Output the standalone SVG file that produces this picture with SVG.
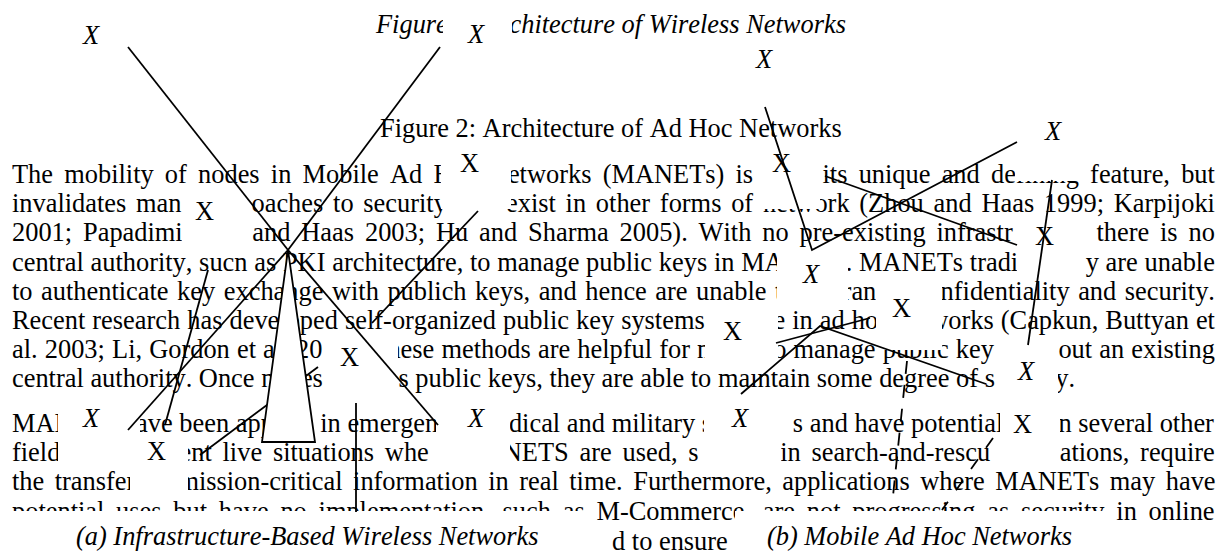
<svg xmlns="http://www.w3.org/2000/svg" width="1229" height="554" viewBox="0 0 1229 554">
<style>
  .t { font-family: "Liberation Serif", "Times New Roman", serif; font-size: 26.4px; fill: #000; font-kerning: none; font-variant-ligatures: none; }
  .i { font-style: italic; }
  .bg { fill: #fff; stroke: none; }
  .ln { stroke: #000; stroke-width: 1.8; fill: none; }
  .dash { stroke-dasharray: 13 11; }
  .lbl { text-anchor: middle; }
</style>
<rect x="0" y="0" width="1229" height="554" fill="#fff"/>

<!-- page text behind the figures -->
<g id="page-text" class="t">
  <text class="i" x="376" y="33">Figure</text>
  <text class="i" x="509.5" y="33">chitecture of Wireless Networks</text>
  <text x="380" y="137">Figure 2: Architecture of Ad Hoc Networks</text>

  <g word-spacing="4.60">
    <text x="12" y="183">The mobility of nodes in Mobile Ad H</text>
    <text x="507.9" y="183">etworks (MANETs) is</text>
    <text x="822.5" y="183">its unique and defining feature, but</text>
  </g>
  <g word-spacing="3.15">
    <text x="12" y="212.2">invalidates man</text>
    <text x="251.5" y="212.2">oaches to security</text>
    <text x="506" y="212.2">exist in other forms of</text>
    <text x="763.1" y="212.2">network (Zhou and Haas 1999; Karpijoki</text>
  </g>
  <g word-spacing="4.29">
    <text x="12" y="241.4">2001; Papadimi</text>
    <text x="252.3" y="241.4">and Haas 2003; Hu and Sharma 2005). With no pre-existing infrastr</text>
    <text x="1096.4" y="241.4">there is no</text>
  </g>
  <g word-spacing="0.13">
    <text x="12" y="270.6">central authority, sucn as PKI architecture, to manage public keys in MA</text>
    <text x="845.7" y="270.6">. MANETs tradi</text>
    <text x="1085.7" y="270.6">y are unable</text>
  </g>
  <g word-spacing="1.95">
    <text x="12" y="299.8">to authenticate key exchange with publich keys, and hence are unable t</text>
    <text x="842.6" y="299.8">ran</text>
    <text x="940.6" y="299.8">nfidentiality and security.</text>
  </g>
  <g word-spacing="0.45">
    <text x="12" y="329">Recent research has developed self-organized public key systems</text>
    <text x="773.5" y="329">e in ad ho</text>
    <text x="929.2" y="329">works (Capkun, Buttyan et</text>
  </g>
  <g word-spacing="0.53">
    <text x="12" y="358.2">al. 2003; Li, Gordon et a</text>
    <text x="296" y="358.2">20</text>
    <text x="387.4" y="358.2">hese methods are helpful for n</text>
    <text x="773.2" y="358.2">o manage public key</text>
    <text x="1058.4" y="358.2">out an existing</text>
  </g>
  <g>
    <text x="12" y="387.4">central authority. Once n</text>
    <text x="300.9" y="387.4">es</text>
    <text x="398.4" y="387.4">s public keys, they are able to maintain some degree of s</text>
    <text x="1055.3" y="387.4">y.</text>
  </g>
  <g word-spacing="0.08">
    <text x="12" y="432">MAN</text>
    <text x="136" y="432">ave been app</text>
    <text x="320.2" y="432">in emergen</text>
    <text x="508.9" y="432">dical and military s</text>
    <text x="792.8" y="432">s and have potential</text>
    <text x="1058.4" y="432">n several other</text>
  </g>
  <g word-spacing="4.19">
    <text x="12" y="461.2">field</text>
    <text x="179.5" y="461.2">ent live situations whe</text>
    <text x="502.8" y="461.2">NETS are used, s</text>
    <text x="780.2" y="461.2">in search-and-rescu</text>
    <text x="1059.7" y="461.2">ations, require</text>
  </g>
  <g word-spacing="3.90">
    <text x="12" y="490.4">the transfer</text>
    <text x="178.4" y="490.4">mission-critical information in real time. Furthermore, applications where MANETs may have</text>
  </g>
  <text x="12" y="519.6" word-spacing="5.17">potential uses but have no implementation, such as M-Commerce, are not progressing as security in online</text>
  <text x="612" y="549.5">d to ensure</text>
</g>

<!-- figure captions with their white backing -->
<g id="caption-a">
  <rect class="bg" x="0" y="511" width="596" height="43"/>
  <text class="t i" x="76" y="545">(a) Infrastructure-Based Wireless Networks</text>
</g>
<g id="caption-b">
  <rect class="bg" x="735" y="511" width="375" height="43"/>
  <text class="t i" x="767" y="545">(b) Mobile Ad Hoc Networks</text>
</g>

<!-- X nodes: label plus white backing box -->
<g id="x1"><text class="t i lbl" x="91" y="44">X</text></g>
<g id="x2"><rect class="bg" x="443" y="8" width="69" height="54"/><text class="t i lbl" x="476" y="43">X</text></g>
<g id="x3"><text class="t i lbl" x="764" y="68">X</text></g>
<g id="x4"><rect class="bg" x="441" y="146" width="70" height="63"/><text class="t lbl" x="469.5" y="172">X</text></g>
<g id="x5"><rect class="bg" x="755" y="146" width="65" height="63"/><text class="t lbl" x="781.5" y="172">X</text></g>
<g id="x6"><rect class="bg" x="1015" y="118" width="73" height="63"/><text class="t i lbl" x="1053" y="140">X</text></g>
<g id="x7"><rect class="bg" x="182" y="190" width="69" height="58"/><text class="t lbl" x="204.5" y="220">X</text></g>
<g id="x8"><rect class="bg" x="777" y="250" width="71" height="56"/><text class="t i lbl" x="811" y="283">X</text></g>
<g id="x9"><rect class="bg" x="1017" y="219" width="68" height="58"/><text class="t lbl" x="1044.5" y="245">X</text></g>
<g id="x10"><rect class="bg" x="705" y="307" width="73" height="65"/><text class="t lbl" x="732.5" y="340">X</text></g>
<g id="x11"><rect class="bg" x="876" y="280" width="66" height="70"/><text class="t lbl" x="901.5" y="317">X</text></g>
<g id="x12"><rect class="bg" x="326" y="336" width="72" height="60"/><text class="t lbl" x="349.5" y="366">X</text></g>
<g id="x13"><rect class="bg" x="995" y="336" width="63" height="60"/><text class="t i lbl" x="1026" y="380">X</text></g>
<g id="x14"><rect class="bg" x="58" y="408" width="82" height="61"/><text class="t i lbl" x="91" y="427">X</text></g>
<g id="x15"><rect class="bg" x="130" y="440" width="58" height="57"/><text class="t lbl" x="156.5" y="460">X</text></g>
<g id="x16"><rect class="bg" x="436" y="408" width="74" height="61"/><text class="t i lbl" x="476" y="427">X</text></g>
<g id="x17"><rect class="bg" x="704" y="408" width="77" height="61"/><text class="t i lbl" x="740" y="427">X</text></g>
<g id="x18"><rect class="bg" x="1000" y="408" width="60" height="61"/><text class="t lbl" x="1022.5" y="433">X</text></g>

<!-- connectors -->
<g id="connectors" class="ln">
  <!-- access point links -->
  <line x1="288" y1="250" x2="128" y2="47"/>
  <line x1="288" y1="250" x2="440" y2="47"/>
  <line x1="288" y1="250" x2="128" y2="430"/>
  <line x1="288" y1="250" x2="438" y2="425"/>
  <line x1="208" y1="270" x2="165" y2="425"/>
  <line x1="318" y1="367" x2="200" y2="455"/>
  <line x1="356" y1="403" x2="356" y2="512"/>
  <line x1="478" y1="211" x2="372" y2="323"/>
  <!-- ad hoc links -->
  <polyline points="765,107 812,250 1017,142"/>
  <line x1="825" y1="176" x2="1017" y2="245"/>
  <line x1="1052" y1="180" x2="1028" y2="345"/>
  <polyline points="741,394 820,326 986,384"/>
  <line x1="776" y1="343" x2="870" y2="318"/>
  <line class="dash" x1="907" y1="361" x2="893" y2="496"/>
  <line x1="993" y1="438" x2="942" y2="510" stroke-dasharray="12 14"/>
</g>

<!-- access point tower -->
<g id="ap">
  <polygon points="288,250 262,442 315,442" fill="#fff" stroke="#000" stroke-width="1.8" stroke-linejoin="miter"/>
</g>
</svg>
